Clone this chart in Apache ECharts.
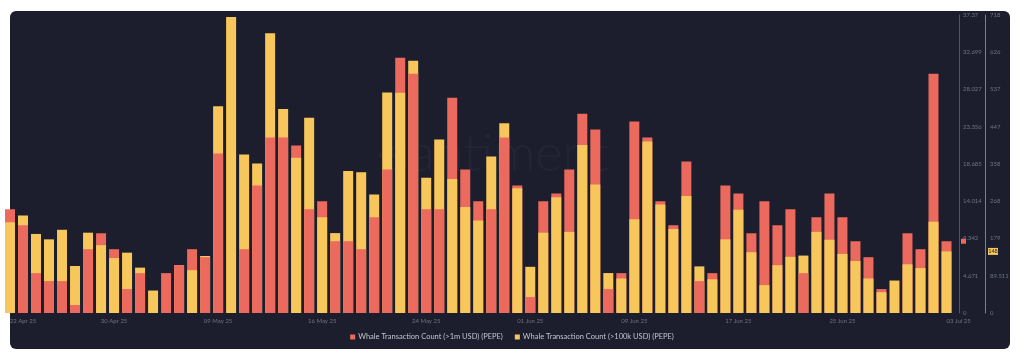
<!DOCTYPE html>
<html>
<head>
<meta charset="utf-8">
<script src="https://cdn.jsdelivr.net/npm/echarts@6/dist/echarts.min.js"></script>
<style>
  html, body { margin: 0; padding: 0; background: #ffffff; width: 1024px; height: 363px; overflow: hidden; }
  #panel { position: absolute; left: 10px; top: 11px; width: 1000px; height: 338px; border-radius: 6px; background: #1c1e2d; }
  #chart { position: absolute; left: 0; top: 0; width: 1024px; height: 363px; }
</style>
</head>
<body>
<div id="panel"></div>
<div id="chart"></div>
<script>
// ---- data ----
const startDate = '2025-04-21';
const redName = 'Whale Transaction Count (>1m USD) (PEPE)';
const yellowName = 'Whale Transaction Count (>100k USD) (PEPE)';

const redValues = [13, 11, 5, 4, 4, 1, 8, 10, 8, 3, 5, 0, 5, 6, 8, 7, 20, 0, 8, 16,
  22, 22, 21, 13, 14, 9, 9, 8, 12, 18, 32, 30, 13, 13, 27, 18, 14, 13, 22, 16,
  2, 14, 15, 18, 25, 23, 3, 5, 24, 22, 14, 11, 19, 4, 5, 16, 15, 10, 14, 11,
  13, 5, 12, 15, 12, 9, 7, 3, 0, 10, 8, 30, 9];

const yellowValues = [218, 234, 190, 177, 200, 113, 193, 163, 132, 145, 109, 54, 0, 115, 103, 137, 497, 711, 381, 359,
  672, 490, 373, 469, 230, 192, 341, 338, 285, 530, 529, 606, 325, 417, 322, 255, 222, 376, 456, 300,
  111, 193, 278, 195, 404, 309, 96, 83, 225, 412, 261, 202, 281, 112, 81, 177, 248, 146, 67, 115,
  135, 138, 195, 176, 142, 125, 83, 50, 78, 117, 108, 219, 148];

const tickIndex = [1, 8, 16, 24, 32, 40, 48, 56, 64, 72];
const tickLabels = ['22 Apr 25', '30 Apr 25', '09 May 25', '16 May 25', '24 May 25', '01 Jun 25', '09 Jun 25', '17 Jun 25', '25 Jun 25', '03 Jul 25'];

const redAxisLabels = ['0', '4.671', '9.342', '14.014', '18.685', '23.356', '28.027', '32.699', '37.37'];
const yellowAxisLabels = ['0', '89.511', '179', '268', '358', '447', '537', '626', '718'];

const RED_MAX = 37.37;
const YELLOW_MAX = 716.088;

// ---- derived ----
const categories = [];
{
  const d0 = new Date(startDate + 'T00:00:00Z');
  for (let i = 0; i < redValues.length; i++) {
    const d = new Date(d0.getTime() + i * 86400000);
    categories.push(d.toISOString().slice(0, 10));
  }
}
const redIsTaller = redValues.map((v, i) => v / RED_MAX > yellowValues[i] / YELLOW_MAX);
const redBack = redValues.map((v, i) => redIsTaller[i] ? v : null);
const redFront = redValues.map((v, i) => redIsTaller[i] ? null : v);
const yellowBack = yellowValues.map((v, i) => redIsTaller[i] ? null : v);
const yellowFront = yellowValues.map((v, i) => redIsTaller[i] ? v : null);

const RED = '#ec695e';
const YELLOW = '#f7c75b';
const FONT = 'Lato, "Noto Sans", sans-serif';

const chart = echarts.init(document.getElementById('chart'), null, { renderer: 'canvas' });

function barSeries(name, data, color, yIdx) {
  return {
    name: name, type: 'bar', data: data, yAxisIndex: yIdx,
    barWidth: 10, barGap: '-100%',
    itemStyle: { color: color },
    emphasis: { disabled: true },
    animation: false
  };
}

const option = {
  animation: false,
  backgroundColor: 'transparent',
  textStyle: { fontFamily: FONT },
  graphic: [{
    type: 'text', left: 375, top: 128, silent: true,
    style: { text: '·santiment', fill: 'rgba(255,255,255,0.035)', font: '300 52px Lato, sans-serif' }
  }],
  grid: { left: 10, right: 77.5, top: 15, bottom: 50 },
  legend: {
    bottom: 17, left: 'center',
    itemWidth: 5, itemHeight: 5, itemGap: 12, icon: 'rect',
    data: [redName, yellowName],
    textStyle: { color: '#c3c5cf', fontSize: 7.5, fontFamily: FONT, padding: [0, 0, 0, -2] }
  },
  xAxis: {
    type: 'category', data: categories, boundaryGap: false,
    axisLine: { show: false }, axisTick: { show: false }, splitLine: { show: false },
    axisLabel: {
      color: '#6f7282', fontSize: 6, margin: 5,
      interval: (i) => tickIndex.includes(i),
      formatter: (v, i) => { const k = tickIndex.indexOf(i); return k >= 0 ? tickLabels[k] : ''; },
      alignMaxLabel: 'left'
    }
  },
  yAxis: [{
    type: 'value', position: 'right', offset: 12.5,
    min: 0, max: RED_MAX, interval: RED_MAX / 8,
    axisLine: { show: true, lineStyle: { color: '#8a3f44', width: 1 } },
    axisTick: { show: false }, splitLine: { show: false },
    axisLabel: { color: '#6f7282', fontSize: 6, margin: 4, formatter: (v, i) => redAxisLabels[i] }
  }, {
    type: 'value', position: 'right', offset: 38.5,
    min: 0, max: YELLOW_MAX, interval: YELLOW_MAX / 8,
    axisLine: { show: true, lineStyle: { color: '#9a8040', width: 1 } },
    axisTick: { show: false }, splitLine: { show: false },
    axisLabel: { color: '#6f7282', fontSize: 6, margin: 5, formatter: (v, i) => yellowAxisLabels[i] }
  }],
  series: [
    barSeries(redName, redBack, RED, 0),
    barSeries(yellowName, yellowBack, YELLOW, 1),
    barSeries(redName, redFront, RED, 0),
    barSeries(yellowName, yellowFront, YELLOW, 1)
  ]
};
chart.setOption(option);

// last-value markers on the axes
const last = redValues.length - 1;
const redY = chart.convertToPixel({ yAxisIndex: 0 }, redValues[last]);
const yellowY = chart.convertToPixel({ yAxisIndex: 1 }, yellowValues[last]);
const gridRight = 1024 - 77.5;
chart.setOption({
  graphic: [{
    type: 'text', left: 375, top: 128, silent: true,
    style: { text: '·santiment', fill: 'rgba(255,255,255,0.035)', font: '300 52px Lato, sans-serif' }
  }, {
    type: 'rect', silent: true, z: 100,
    shape: { x: gridRight + 14.5, y: redY - 2.5, width: 5, height: 5 },
    style: { fill: RED }
  }, {
    type: 'group', silent: true, z: 100,
    children: [{
      type: 'rect',
      shape: { x: gridRight + 41.5, y: yellowY - 3.5, width: 10, height: 7 },
      style: { fill: YELLOW }
    }, {
      type: 'text',
      style: { x: gridRight + 46.5, y: yellowY, text: String(yellowValues[last]), fill: '#1c1e2d', fontSize: 5.5, fontFamily: FONT, align: 'center', verticalAlign: 'middle' }
    }]
  }]
});
</script>
</body>
</html>
